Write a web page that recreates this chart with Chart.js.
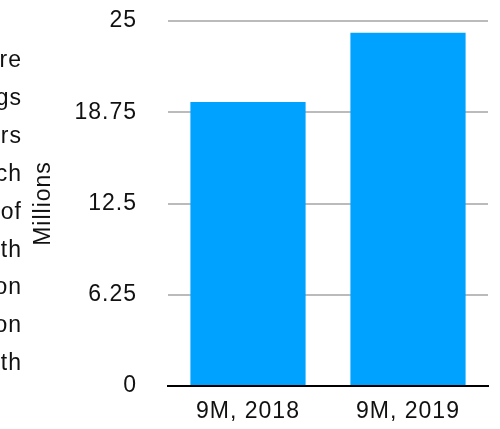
<!DOCTYPE html>
<html>
<head>
<meta charset="utf-8">
<script src="https://cdn.jsdelivr.net/npm/chart.js@4/dist/chart.umd.min.js"></script>
<style>
  body { margin: 0; background: #fff; }
  #wrap { position: relative; width: 500px; height: 429px; overflow: hidden; }
  #side {
    position: absolute; right: 478px; top: 41px; width: 200px;
    text-align: right; font-family: "Liberation Sans", Arial, sans-serif;
    font-size: 23px; line-height: 37.9px; color: #111; white-space: nowrap;
    letter-spacing: 1px;
  }
</style>
</head>
<body>
<div id="wrap">
  <div id="side">re<br>gs<br>rs<br>ch<br>of<br>th<br>on<br>on<br>th</div>
  <canvas id="chart" width="500" height="429"></canvas>
</div>
<script>
// chart data
const categories = ["9M, 2018", "9M, 2019"];
const values = [19.45, 24.2];
const tickValues = [0, 6.25, 12.5, 18.75, 25];
const yTitle = "Millions";

const font = { family: "'Liberation Sans', Arial, sans-serif", size: 23 };

// slightly wider lettering, like the original
const spacing = {
  id: "spacing",
  beforeLayout: (chart) => { chart.ctx.letterSpacing = "1px"; },
  beforeDraw: (chart) => { chart.ctx.letterSpacing = "1px"; },
};

new Chart(document.getElementById("chart").getContext("2d"), {
  type: "bar",
  data: {
    labels: categories,
    datasets: [
      {
        data: values,
        backgroundColor: "#00a2ff",
        categoryPercentage: 1,
        barPercentage: 0.72,
      },
    ],
  },
  plugins: [spacing],
  options: {
    responsive: false,
    animation: false,
    layout: { padding: { left: 30, right: 12, top: 21, bottom: 0 } },
    plugins: { legend: { display: false }, tooltip: { enabled: false } },
    scales: {
      x: {
        grid: { display: false, drawTicks: false },
        border: { color: "#000", width: 2 },
        ticks: { color: "#111", font: font, padding: 12 },
        afterFit: (s) => { s.height = 43; },
      },
      y: {
        min: 0,
        max: 25,
        afterBuildTicks: (s) => { s.ticks = tickValues.map((v) => ({ value: v })); },
        ticks: { color: "#111", font: font, padding: 0, callback: (v) => String(v) },
        grid: { color: "#bbbbbb", lineWidth: 2, drawTicks: true, tickLength: 31, tickColor: "rgba(0,0,0,0)" },
        border: { display: false },
        title: { display: true, text: yTitle, color: "#111", font: font, padding: { top: 0, bottom: 0 } },
        afterFit: (s) => { s.width = 138; },
      },
    },
  },
});
</script>
</body>
</html>
